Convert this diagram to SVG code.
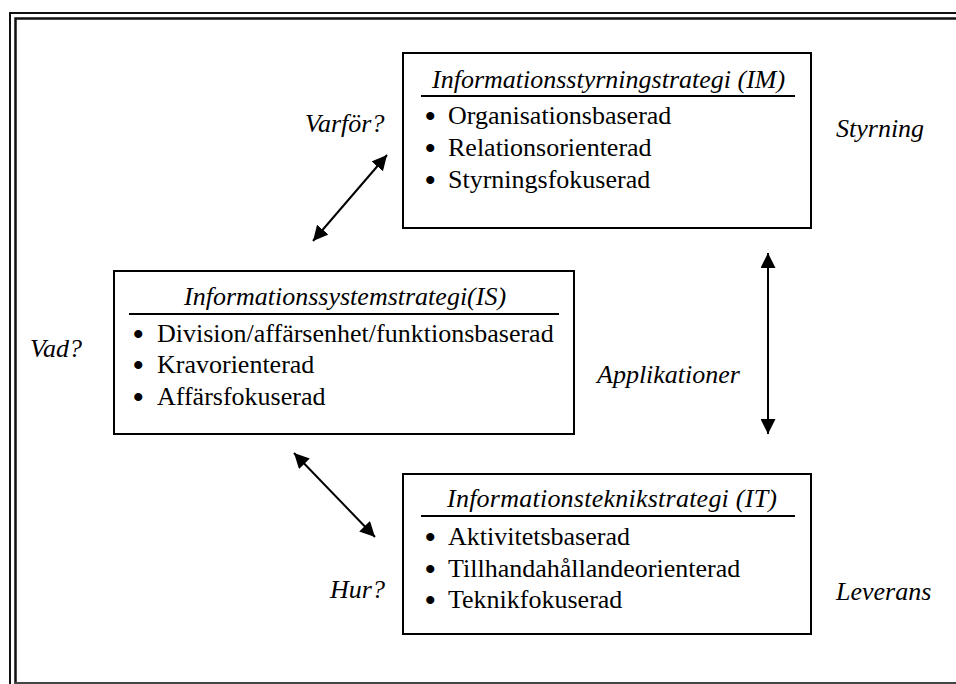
<svg xmlns="http://www.w3.org/2000/svg" width="956" height="684" viewBox="0 0 956 684">
  <style>
    text { font-family: "Liberation Serif", "Times New Roman", serif; font-size: 26px; fill: #000; }
    .it { font-style: italic; }
    .dot { font-size: 30px; font-weight: bold; }
    .box { fill: #fff; stroke: #000; stroke-width: 2; }
    .rule { stroke: #000; stroke-width: 2; }
    .frame { fill: none; stroke: #111; }
    .conn { stroke: #000; stroke-width: 2; fill: none; marker-start: url(#head); marker-end: url(#head); }
  </style>
  <defs>
    <marker id="head" viewBox="0 0 10 10" refX="10" refY="5" markerWidth="7.5" markerHeight="7.5" markerUnits="strokeWidth" orient="auto-start-reverse">
      <path d="M0,0 L10,5 L0,10 Z" fill="#000"/>
    </marker>
  </defs>

  <rect width="956" height="684" fill="#fff"/>

  <!-- double page frame -->
  <g id="frame">
    <path class="frame" stroke-width="2" d="M10,684 V13 H956"/>
    <path class="frame" stroke-width="2.5" d="M15.5,684 V18.5 H956"/>
    <line x1="15" y1="683" x2="956" y2="683" stroke="#444" stroke-width="2"/>
  </g>

  <!-- connectors -->
  <g id="connectors">
    <line class="conn" x1="313" y1="241" x2="387" y2="155"/>
    <line class="conn" x1="294" y1="453" x2="375" y2="537"/>
    <line class="conn" x1="768" y1="253" x2="768" y2="434"/>
  </g>

  <g id="im">
    <rect class="box" x="403" y="53" width="408" height="175"/>
    <text class="it" x="432" y="88">Informationsstyrningstrategi (IM)</text>
    <line class="rule" x1="421" y1="96" x2="795" y2="96"/>
    <text y="124"><tspan class="dot" x="425" dy="2">•</tspan><tspan x="448" dy="-2">Organisationsbaserad</tspan></text>
    <text y="156"><tspan class="dot" x="425" dy="2">•</tspan><tspan x="448" dy="-2">Relationsorienterad</tspan></text>
    <text y="188"><tspan class="dot" x="425" dy="2">•</tspan><tspan x="448" dy="-2">Styrningsfokuserad</tspan></text>
  </g>

  <g id="is">
    <rect class="box" x="114" y="271" width="460" height="163"/>
    <text class="it" x="184" y="305">Informationssystemstrategi(IS)</text>
    <line class="rule" x1="129" y1="314" x2="559" y2="314"/>
    <text y="342"><tspan class="dot" x="133" dy="2">•</tspan><tspan x="157" dy="-2">Division/affärsenhet/funktionsbaserad</tspan></text>
    <text y="373"><tspan class="dot" x="133" dy="2">•</tspan><tspan x="157" dy="-2">Kravorienterad</tspan></text>
    <text y="405"><tspan class="dot" x="133" dy="2">•</tspan><tspan x="157" dy="-2">Affärsfokuserad</tspan></text>
  </g>

  <g id="it">
    <rect class="box" x="403" y="474" width="408" height="160"/>
    <text class="it" x="447" y="507" textLength="330" lengthAdjust="spacing">Informationsteknikstrategi (IT)</text>
    <line class="rule" x1="421" y1="516" x2="795" y2="516"/>
    <text y="545"><tspan class="dot" x="425" dy="2">•</tspan><tspan x="448" dy="-2">Aktivitetsbaserad</tspan></text>
    <text y="577"><tspan class="dot" x="425" dy="2">•</tspan><tspan x="448" dy="-2">Tillhandahållandeorienterad</tspan></text>
    <text y="608"><tspan class="dot" x="425" dy="2">•</tspan><tspan x="448" dy="-2">Teknikfokuserad</tspan></text>
  </g>

  <g id="labels">
    <text class="it" x="305" y="132">Varför?</text>
    <text class="it" x="836" y="137">Styrning</text>
    <text class="it" x="30" y="357">Vad?</text>
    <text class="it" x="597" y="383">Applikationer</text>
    <text class="it" x="330" y="598">Hur?</text>
    <text class="it" x="836" y="600">Leverans</text>
  </g>
</svg>
